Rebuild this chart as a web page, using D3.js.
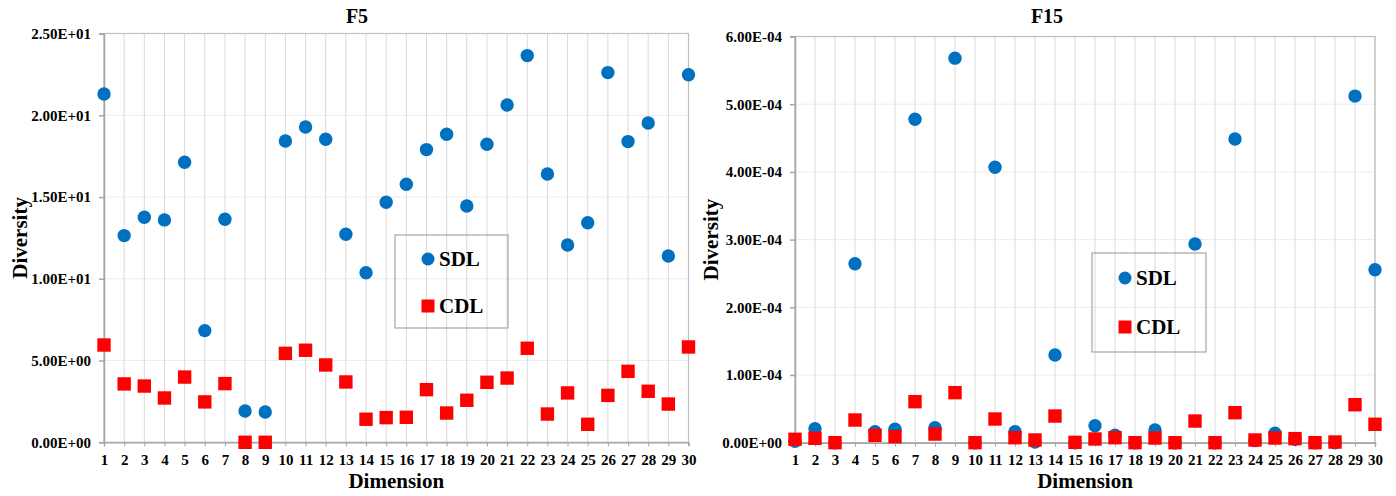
<!DOCTYPE html>
<html><head><meta charset="utf-8">
<script src="https://cdn.jsdelivr.net/npm/d3@7"></script>
<style>
html,body{margin:0;padding:0;background:#fff;}
svg{display:block;}
text{font-family:"Liberation Serif","Times New Roman",serif;font-weight:bold;fill:#000;}
</style></head>
<body><svg id="c" width="1396" height="496"></svg>
<script>
// ---- data ----
const dimensions = d3.range(1, 31);

const f5SDL = [21.3, 12.64, 13.76, 13.6, 17.13, 6.83, 13.64, 1.91, 1.85, 18.43,
               19.28, 18.53, 12.72, 10.37, 14.68, 15.78, 17.9, 18.84, 14.45, 18.23,
               20.63, 23.65, 16.41, 12.07, 13.43, 22.61, 18.39, 19.53, 11.39, 22.48];
const f5CDL = [5.95, 3.57, 3.44, 2.71, 3.99, 2.47, 3.59, 0.0, 0.0, 5.44,
               5.63, 4.73, 3.69, 1.41, 1.51, 1.53, 3.22, 1.79, 2.57, 3.67,
               3.93, 5.75, 1.73, 3.02, 1.10, 2.87, 4.34, 3.12, 2.34, 5.83];

const f15SDL = [0.02e-4, 0.207e-4, 0.0, 2.644e-4, 0.162e-4, 0.198e-4, 4.777e-4, 0.222e-4, 5.68e-4, 0.0,
                4.068e-4, 0.162e-4, 0.01e-4, 1.295e-4, 0.0, 0.251e-4, 0.11e-4, 0.0, 0.188e-4, 0.0,
                2.935e-4, 0.0, 4.486e-4, 0.03e-4, 0.139e-4, 0.05e-4, 0.0, 0.0, 5.12e-4, 2.555e-4];
const f15CDL = [0.05e-4, 0.065e-4, 0.0, 0.335e-4, 0.109e-4, 0.089e-4, 0.606e-4, 0.128e-4, 0.739e-4, 0.0,
                0.35e-4, 0.074e-4, 0.04e-4, 0.394e-4, 0.005e-4, 0.055e-4, 0.074e-4, 0.0, 0.069e-4, 0.0,
                0.32e-4, 0.0, 0.443e-4, 0.04e-4, 0.069e-4, 0.06e-4, 0.0, 0.01e-4, 0.561e-4, 0.272e-4];

const f5TickValues = [0, 5, 10, 15, 20, 25];
const f5TickLabels = ["0.00E+00", "5.00E+00", "1.00E+01", "1.50E+01", "2.00E+01", "2.50E+01"];
const f15TickValues = [0, 1e-4, 2e-4, 3e-4, 4e-4, 5e-4, 6e-4];
const f15TickLabels = ["0.00E+00", "1.00E-04", "2.00E-04", "3.00E-04", "4.00E-04", "5.00E-04", "6.00E-04"];

const seriesNames = ["SDL", "CDL"];
const titles = ["F5", "F15"];
const xTitle = "Dimension";
const yTitle = "Diversity";

// ---- drawing ----
const svg = d3.select("#c");
const BLUE = "#0070C0", RED = "#FF0000";

function drawChart(cfg) {
  const g = svg.append("g");
  const x = d3.scaleLinear().domain([1, 30]).range([cfg.left, cfg.right]);
  const y = d3.scaleLinear().domain([0, cfg.ymax]).range([cfg.bottom, cfg.top]);

  // horizontal gridlines
  g.append("g").selectAll("line").data(cfg.tickValues).join("line")
    .attr("x1", cfg.left).attr("x2", cfg.right)
    .attr("y1", d => y(d)).attr("y2", d => y(d))
    .attr("stroke", "#ececec").attr("stroke-width", 1);
  // vertical gridlines
  g.append("g").selectAll("line").data(dimensions).join("line")
    .attr("x1", d => x(d)).attr("x2", d => x(d))
    .attr("y1", cfg.top).attr("y2", cfg.bottom)
    .attr("stroke", "#d9d9d9").attr("stroke-width", 1);
  // plot border
  g.append("rect").attr("x", cfg.left).attr("y", cfg.top)
    .attr("width", cfg.right - cfg.left).attr("height", cfg.bottom - cfg.top)
    .attr("fill", "none").attr("stroke", "#bfbfbf").attr("stroke-width", 1.2);

  // y axis
  const ya = d3.axisLeft(y).tickValues(cfg.tickValues)
    .tickFormat((d, i) => cfg.tickLabels[i]).tickSize(5).tickPadding(8);
  const yg = g.append("g").attr("transform", `translate(${cfg.left},0)`).call(ya);
  yg.select(".domain").attr("stroke", "#a6a6a6").attr("stroke-width", 1.5);
  yg.selectAll(".tick line").attr("stroke", "#a6a6a6").attr("stroke-width", 1.5);
  yg.selectAll("text").attr("font-size", 15).attr("font-family", "Liberation Serif").attr("font-weight", "bold").attr("fill", "#000");

  // x axis
  const xa = d3.axisBottom(x).tickValues(dimensions).tickSize(4).tickPadding(8);
  const xg = g.append("g").attr("transform", `translate(0,${cfg.bottom})`).call(xa);
  xg.select(".domain").attr("stroke", "#a6a6a6").attr("stroke-width", 1.5);
  xg.selectAll(".tick line").attr("stroke", "#a6a6a6").attr("stroke-width", 1);
  xg.selectAll("text").attr("font-size", 15).attr("font-family", "Liberation Serif").attr("font-weight", "bold").attr("fill", "#000");

  // titles
  g.append("text").attr("x", cfg.titleX).attr("y", 23).attr("text-anchor", "middle")
    .attr("font-size", 20).text(cfg.title);
  g.append("text").attr("x", (cfg.left + cfg.right) / 2).attr("y", 488).attr("text-anchor", "middle")
    .attr("font-size", 21).text(xTitle);
  g.append("text").attr("transform", `translate(${cfg.yTitleX},${(cfg.top + cfg.bottom) / 2}) rotate(-90)`)
    .attr("text-anchor", "middle").attr("font-size", 21).text(yTitle);

  // series
  g.append("g").selectAll("circle").data(cfg.sdl).join("circle")
    .attr("cx", (d, i) => x(dimensions[i])).attr("cy", d => y(d))
    .attr("r", 6.7).attr("fill", BLUE);
  const s = 13.4;
  g.append("g").selectAll("rect").data(cfg.cdl).join("rect")
    .attr("x", (d, i) => x(dimensions[i]) - s / 2).attr("y", d => y(d) - s / 2)
    .attr("width", s).attr("height", s).attr("fill", RED);

  // legend
  const L = cfg.legend;
  g.append("rect").attr("x", L.x).attr("y", L.y).attr("width", L.w).attr("height", L.h)
    .attr("fill", "none").attr("stroke", "#a6a6a6").attr("stroke-width", 1.2);
  g.append("circle").attr("cx", L.mx).attr("cy", L.y1).attr("r", 6.5).attr("fill", BLUE);
  g.append("rect").attr("x", L.mx - 6.5).attr("y", L.y2 - 6.5).attr("width", 13).attr("height", 13).attr("fill", RED);
  g.append("text").attr("x", L.mx + 11).attr("y", L.y1 + 7).attr("font-size", 21).text(seriesNames[0]);
  g.append("text").attr("x", L.mx + 11).attr("y", L.y2 + 7).attr("font-size", 21).text(seriesNames[1]);
}

drawChart({
  left: 104, right: 688.5, top: 33.5, bottom: 442.3, ymax: 25,
  tickValues: f5TickValues, tickLabels: f5TickLabels,
  sdl: f5SDL, cdl: f5CDL, title: titles[0], titleX: 357, yTitleX: 27,
  legend: {x: 395, y: 235, w: 113, h: 93, mx: 428, y1: 259, y2: 306}
});
drawChart({
  left: 795, right: 1375, top: 36.5, bottom: 442.7, ymax: 6e-4,
  tickValues: f15TickValues, tickLabels: f15TickLabels,
  sdl: f15SDL, cdl: f15CDL, title: titles[1], titleX: 1047, yTitleX: 718,
  legend: {x: 1092, y: 253, w: 114, h: 99, mx: 1125, y1: 278, y2: 327}
});
</script></body></html>
